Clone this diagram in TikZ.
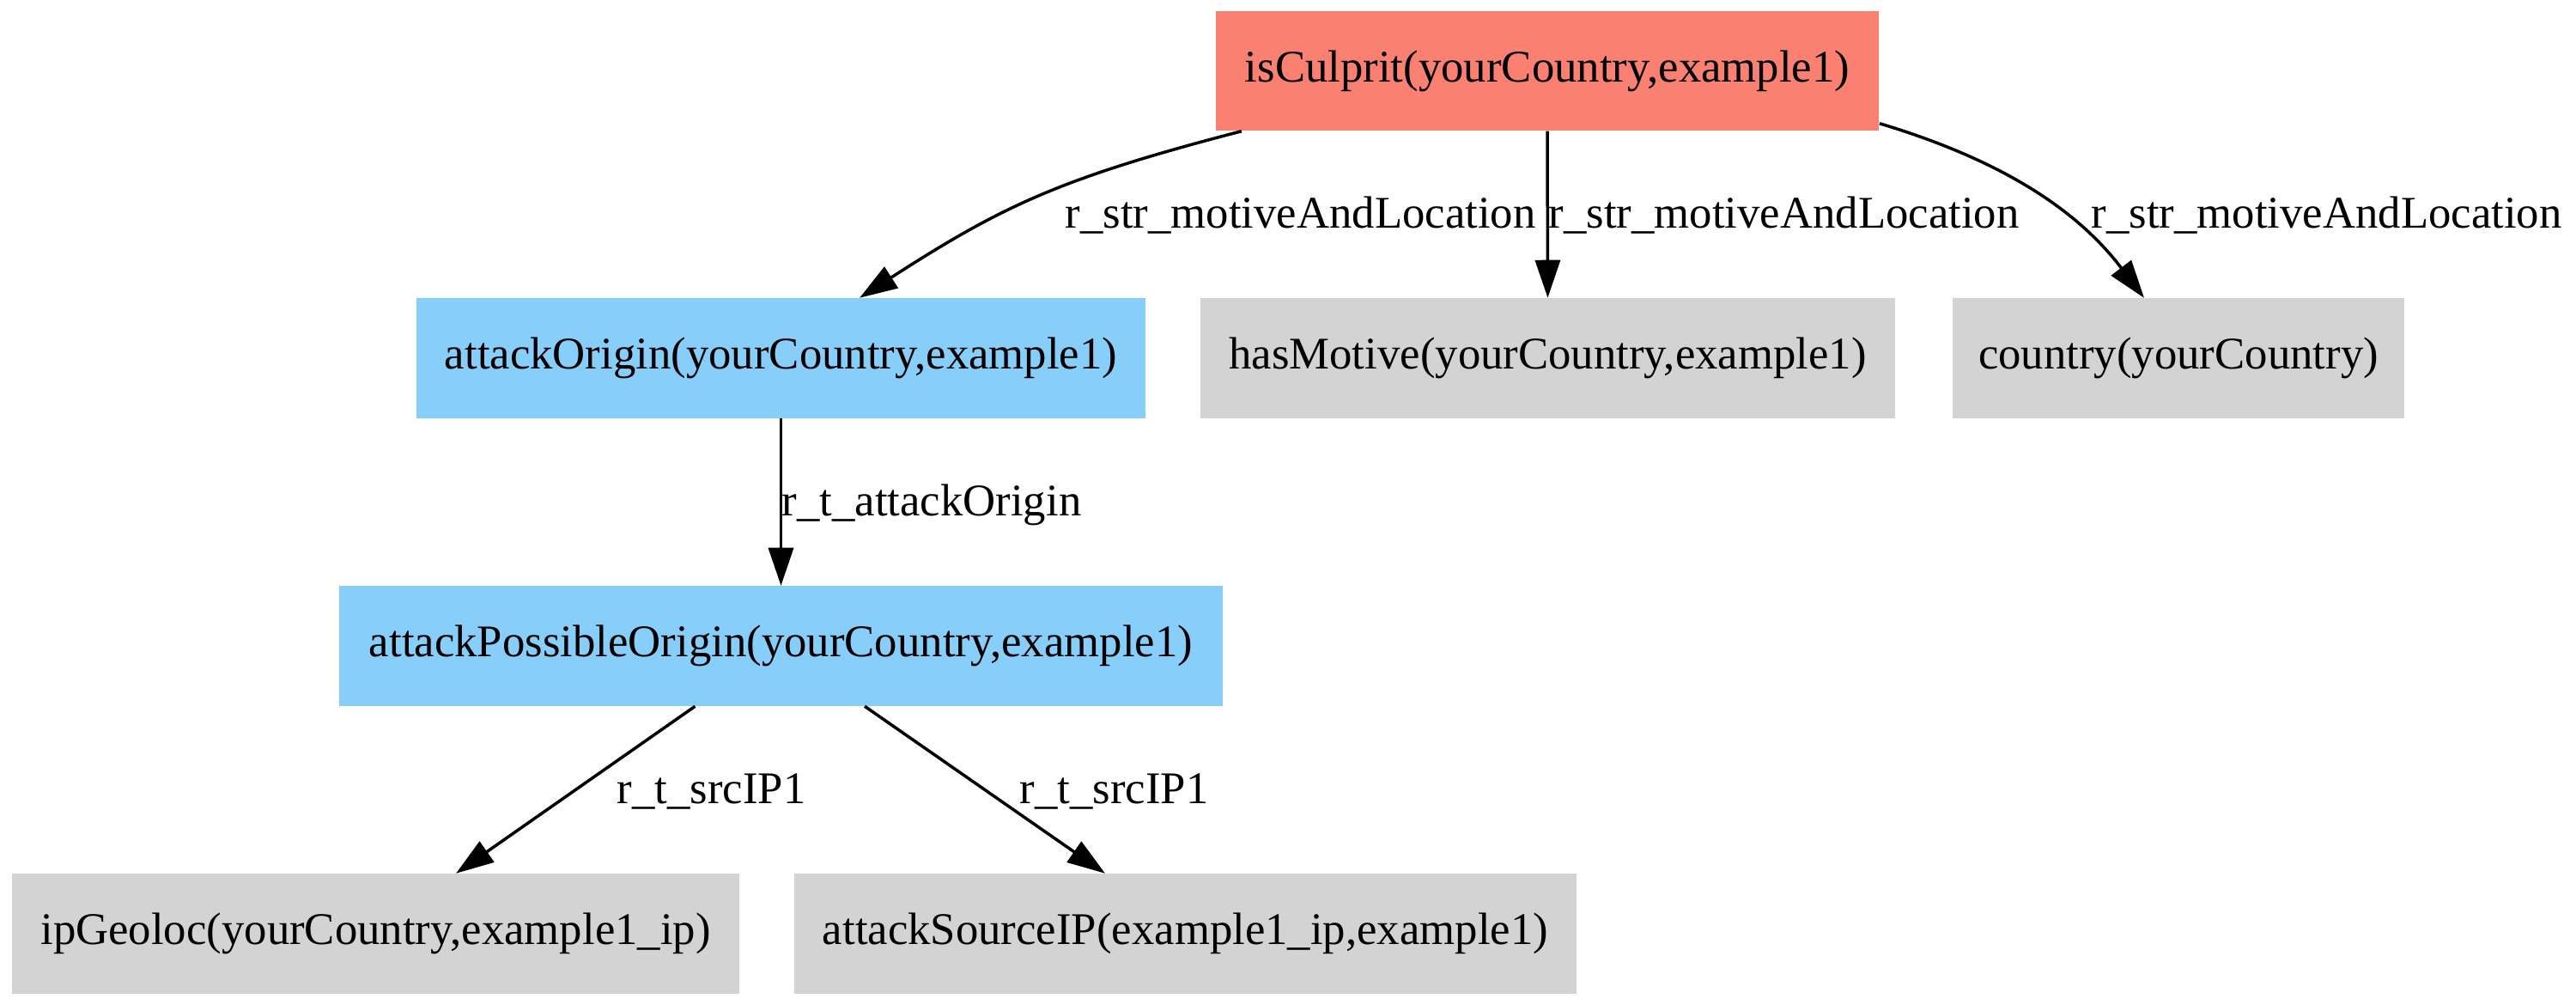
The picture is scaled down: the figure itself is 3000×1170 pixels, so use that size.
\documentclass[tikz,border=0pt]{standalone}
\usepackage{fontspec}
\setmainfont{Liberation Serif}
\usetikzlibrary{arrows.meta,calc}
\definecolor{salmonc}{HTML}{FA8072}
\definecolor{skyc}{HTML}{87CEFA}
\definecolor{grayc}{HTML}{D3D3D3}
\tikzset{
  box/.style={rectangle, inner sep=0pt, minimum height=1.39cm, font=\fontsize{15}{18}\selectfont},
  redbox/.style={box, fill=salmonc},
  bluebox/.style={box, fill=skyc},
  graybox/.style={box, fill=grayc},
  edge/.style={line width=0.035cm, -{Triangle[length=0.44cm,width=0.29cm]}},
  lbl/.style={anchor=base west, inner sep=0pt, font=\fontsize{15}{18}\selectfont}
}
\begin{document}
\begin{tikzpicture}[x=0.01cm,y=-0.01cm]
\useasboundingbox (0,0) rectangle (3000,1170);
\node[redbox, minimum width=7.72cm] (isC) at (1802,82.5) {isCulprit(yourCountry,example1)};
\node[bluebox, minimum width=8.49cm] (aO) at (909.5,417) {attackOrigin(yourCountry,example1)};
\node[graybox, minimum width=8.09cm] (hM) at (1802.5,417) {hasMotive(yourCountry,example1)};
\node[graybox, minimum width=5.26cm] (cty) at (2537,417) {country(yourCountry)};
\node[bluebox, minimum width=10.29cm] (aPO) at (909.5,752) {attackPossibleOrigin(yourCountry,example1)};
\node[graybox, minimum width=8.47cm] (ipG) at (437.5,1087) {ipGeoloc(yourCountry,example1\_ip)};
\node[graybox, minimum width=9.11cm] (aSIP) at (1380.5,1087) {attackSourceIP(example1\_ip,example1)};

\draw[edge] ([xshift=-3.56cm]isC.south) .. controls (1233,208) and (1167,240) .. ([xshift=0.915cm]aO.north);
\draw[edge] (isC.south) -- (hM.north);
\draw[edge] ([yshift=0.09cm]isC.south east) .. controls (2360,195) and (2433,263) .. ([xshift=-0.40cm]cty.north);
\draw[edge] (aO.south) -- (aPO.north);
\draw[edge] ([xshift=-1.0cm]aPO.south) -- ([xshift=0.935cm]ipG.north);
\draw[edge] ([xshift=0.975cm]aPO.south) -- ([xshift=-0.935cm]aSIP.north);

\node[lbl] (l1) at (1240,265) {r\_str\_motiveAndLocation};
\node[lbl] (l2) at (1803,265) {r\_str\_motiveAndLocation};
\node[lbl] (l3) at (2435,265) {r\_str\_motiveAndLocation};
\node[lbl] (l4) at (910,600) {r\_t\_attackOrigin};
\node[lbl] (l5) at (718,935) {r\_t\_srcIP1};
\node[lbl] (l6) at (1187,935) {r\_t\_srcIP1};
\end{tikzpicture}
\end{document}
